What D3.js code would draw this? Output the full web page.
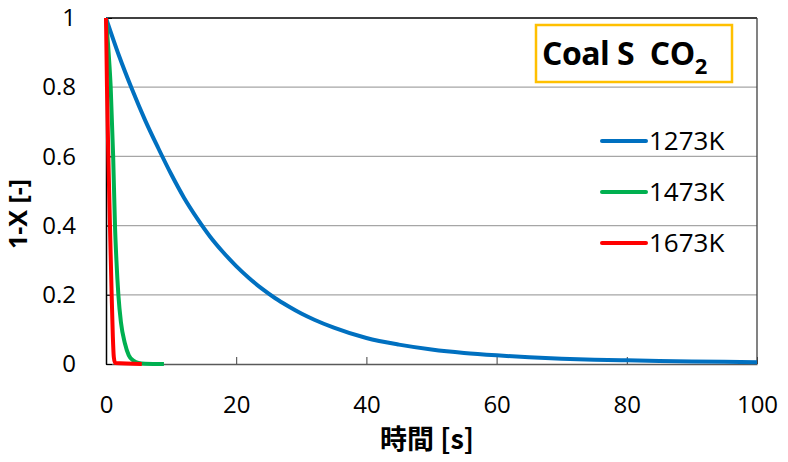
<!DOCTYPE html>
<html>
<head>
<meta charset="utf-8">
<script src="https://cdn.jsdelivr.net/npm/d3@7"></script>
<style>
    body { margin: 0; background: #fff; }
    svg text { font-family: "Open Sans", "Noto Sans", sans-serif; fill: #000; }
</style>
</head>
<body>
<svg id="chart" width="788" height="462"></svg>
<script>
// series labels and colours
const seriesNames = ["1273K", "1473K", "1673K"];
const seriesColors = ["#0070C0", "#00B050", "#FF0000"];

// time [s] and 1-X
const time1273 = [0, 2, 4, 6, 8, 10, 12, 14, 16, 18, 20, 22, 24, 26, 28, 30, 32, 35, 40, 45, 50, 55, 60, 65, 70, 75, 80, 85, 90, 95, 100];
const conv1273 = [1, 0.891, 0.794, 0.705, 0.625, 0.549, 0.48, 0.421, 0.368, 0.323, 0.283, 0.248, 0.217, 0.19, 0.167, 0.146, 0.128, 0.105, 0.075, 0.056, 0.042, 0.032, 0.025, 0.0195, 0.0155, 0.0125, 0.0105, 0.0088, 0.0074, 0.0062, 0.0052];

const time1473 = [0, 0.4, 0.72, 1.1, 1.38, 1.6, 1.9, 2.3, 2.9, 3.5, 4.2, 5, 6, 8.9];
const conv1473 = [1, 0.9, 0.8, 0.6, 0.4, 0.3, 0.2, 0.12, 0.06, 0.025, 0.01, 0.003, 0.001, 0];

const time1673 = [0, 0.15, 0.36, 0.61, 0.87, 1.05, 1.2, 1.4, 5.5];
const conv1673 = [1, 0.8, 0.6, 0.4, 0.2, 0.08, 0.02, 0.003, 0];

const xTicks = [0, 20, 40, 60, 80, 100];
const yTicks = [0, 0.2, 0.4, 0.6, 0.8, 1];

let chart = d3.select("#chart"),
    margin = {top: 18, right: 31, bottom: 98, left: 106},
    width = +chart.attr("width") - margin.left - margin.right,
    height = +chart.attr("height") - margin.top - margin.bottom;

let x = d3.scaleLinear().domain([0, 100]).range([0, width]);
let y = d3.scaleLinear().domain([0, 1]).range([height, 0]);

let focus = chart.append("g")
    .attr("transform", "translate(" + margin.left + "," + margin.top + ")");

// horizontal grid lines
focus.append("g")
    .selectAll("line")
    .data(yTicks.filter(d => d > 0 && d < 1))
    .enter()
    .append("line")
    .attr("x1", 0)
    .attr("x2", width)
    .attr("y1", d => y(d))
    .attr("y2", d => y(d))
    .attr("stroke", "#a6a6a6")
    .attr("stroke-width", 1.3);

// frame: top and right
focus.append("line")
    .attr("x1", 0).attr("x2", width)
    .attr("y1", y(1)).attr("y2", y(1))
    .attr("stroke", "#000").attr("stroke-width", 1.3);
focus.append("line")
    .attr("x1", width).attr("x2", width)
    .attr("y1", 0).attr("y2", height)
    .attr("stroke", "#404040").attr("stroke-width", 1.3);

// axes
let xAxis = d3.axisBottom(x)
    .tickValues(xTicks)
    .tickSizeInner(-7)
    .tickSizeOuter(0)
    .tickPadding(32);
let yAxis = d3.axisLeft(y)
    .tickValues(yTicks)
    .tickFormat(d => d === 0 || d === 1 ? d3.format("d")(d) : d3.format(".1f")(d))
    .tickSizeInner(-6)
    .tickSizeOuter(0)
    .tickPadding(30);

let gx = focus.append("g")
    .attr("transform", "translate(0," + height + ")")
    .call(xAxis);
gx.select(".domain").attr("stroke", "#595959").attr("stroke-width", 1.5);
gx.selectAll(".tick line").attr("stroke", "#404040");
gx.selectAll(".tick text")
    .attr("font-size", 24)
    .attr("font-family", "Open Sans");

let gy = focus.append("g").call(yAxis);
gy.select(".domain").attr("stroke", "#000").attr("stroke-width", 1.5);
gy.selectAll(".tick line").attr("stroke", "#000");
gy.selectAll(".tick text")
    .attr("font-size", 24)
    .attr("font-family", "Open Sans");

// curves
let line = d3.line()
    .x(d => x(d[0]))
    .y(d => y(d[1]))
    .curve(d3.curveMonotoneX);

let seriesData = [
    d3.zip(time1273, conv1273),
    d3.zip(time1473, conv1473),
    d3.zip(time1673, conv1673)
];

focus.selectAll(".series")
    .data(seriesData)
    .enter()
    .append("path")
    .attr("class", "series")
    .attr("fill", "none")
    .attr("stroke", (d, i) => seriesColors[i])
    .attr("stroke-width", 4)
    .attr("stroke-linejoin", "round")
    .attr("d", line);

// legend
let legendRows = [141, 192, 243];
let legend = chart.append("g");
seriesNames.forEach(function(name, i) {
    legend.append("line")
        .attr("x1", 602).attr("x2", 646)
        .attr("y1", legendRows[i]).attr("y2", legendRows[i])
        .attr("stroke", seriesColors[i])
        .attr("stroke-width", 4)
        .attr("stroke-linecap", "round");
    legend.append("text")
        .attr("x", 649)
        .attr("y", legendRows[i])
        .attr("dy", "0.35em")
        .attr("font-size", 26)
        .text(name);
});

// title box
chart.append("rect")
    .attr("x", 536).attr("y", 25)
    .attr("width", 196).attr("height", 57)
    .attr("fill", "#fff")
    .attr("stroke", "#FFC000")
    .attr("stroke-width", 2.5);
let title = chart.append("text")
    .attr("x", 542)
    .attr("y", 65)
    .attr("font-size", 32)
    .attr("font-weight", "bold")
    .attr("letter-spacing", -0.5)
    .style("white-space", "pre");
title.append("tspan").text("Coal S  CO");
title.append("tspan").attr("dy", 9).attr("font-size", 22).text("2");

// axis titles
chart.append("text")
    .attr("transform", "translate(27,214) rotate(-90)")
    .attr("text-anchor", "middle")
    .attr("font-size", 25)
    .attr("font-weight", "bold")
    .text("1-X [-]");

chart.append("text")
    .attr("x", 427)
    .attr("y", 449)
    .attr("text-anchor", "middle")
    .attr("font-size", 27)
    .attr("font-weight", "bold")
    .style("font-family", "'Noto Sans CJK JP', 'Open Sans', sans-serif")
    .text("時間 [s]");
</script>
</body>
</html>
